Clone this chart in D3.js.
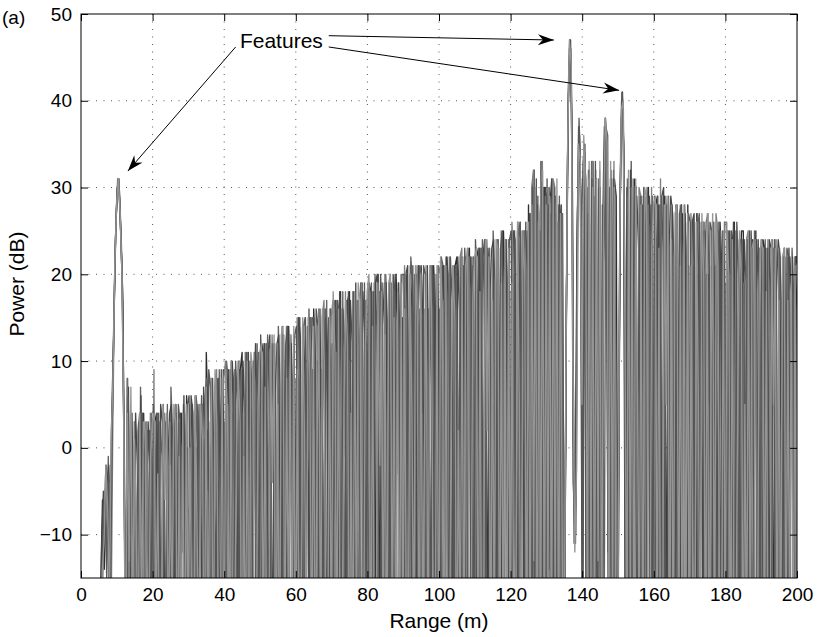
<!DOCTYPE html>
<html>
<head>
<meta charset="utf-8">
<script src="https://d3js.org/d3.v7.min.js"></script>
<style>
  body { margin: 0; background: #fff; }
  svg { display: block; font-family: "Liberation Sans", Arial, Helvetica, sans-serif; }
</style>
</head>
<body>
<div id="chart"></div>
<script>
// Radar power returns, several sweeps overlaid
// samples every 0.5 m starting at 5 m, each sweep sits a little shifted in range
var rangeStart = 5;
var rangeStep = 0.5;
var sweepShift = [0, 0.125, 0.25, 0.375, 0.1875, 0.4375];

// one line = 5 m of range (10 samples), power in dB
var sweepA = [
  -40,-16,-6,-14,-2,-9,-20,2,11,22,
  29,31,26,20,0,-28,8,-22,3,-25,
  3,-26,-2,-31,-20,4,-9,2,-28,-1,
  -25,4,3,-30,-1,-22,5,-33,3,-19,
  0,-27,-20,5,-9,-32,4,-1,-24,6,
  -24,-8,5,-31,6,0,-22,-29,5,-27,
  11,3,-28,8,-21,-33,-6,8,2,-25,
  -4,-29,9,-22,10,8,-31,-25,4,9,
  11,-30,5,-23,-32,10,-3,11,-26,4,
  -28,12,11,-31,6,-24,12,-33,11,-21,
  7,-29,-22,13,-1,-31,14,8,-25,13,
  -27,-1,15,-33,14,9,-24,-31,15,-22,
  16,10,-29,15,-23,-32,-2,16,9,-26,
  1,-30,17,-25,16,18,-22,-33,11,17,
  18,-27,12,-33,-21,17,2,19,-30,12,
  -29,19,18,-23,13,-31,20,-26,18,-33,
  15,-24,-33,19,0,-28,20,14,-22,19,
  -25,3,20,-29,21,15,-33,-22,20,-30,
  21,15,-32,20,-25,-29,3,21,16,-23,
  2,-28,21,-32,22,20,-25,-30,16,21,
  22,-30,17,-24,-33,22,4,23,-27,17,
  -27,23,22,-33,18,-25,24,-29,22,-31,
  19,-26,-33,24,4,-27,25,18,-31,24,
  -30,5,25,-27,26,20,-33,-25,25,-31,
  28,-26,29,32,-30,28,-22,33,-27,30,
  29,-24,28,31,-31,29,-20,28,-26,27,
  -25,12,37,47,42,-4,-9,21,37,31,
  -20,34,31,-27,32,-24,33,-30,31,-22,
  30,-25,21,38,34,-20,32,-28,31,29,
  -25,24,40,39,-20,30,-26,32,-29,31,
  30,-28,24,-33,-25,29,8,30,-27,23,
  -30,28,29,-24,23,-33,29,-27,28,-25,
  22,-27,-31,28,5,-24,27,21,-33,28,
  -27,5,26,-31,27,21,-24,-33,26,-28,
  26,20,-32,26,-25,-28,5,26,21,-33,
  4,-31,25,-27,24,26,-24,-33,19,25,
  25,-30,19,-25,-32,24,4,25,-27,18,
  -26,24,23,-31,18,-28,24,-33,23,-25,
  17,-31,-25,23,3,-28,22,18,-33,22,
  22
];

var sweepB = [
  -40,-18,-9,-5,-12,-1,-16,1,13,24,
  30,31,24,18,-3,-30,5,-18,2,-22,
  -1,-24,-33,7,-8,-29,3,-3,-22,4,
  -28,-6,4,-21,3,-1,-31,-24,5,-29,
  7,1,-30,4,-25,-19,-8,5,-2,-33,
  -7,-30,5,-24,6,4,-33,-19,0,6,
  8,-26,3,-31,-20,7,-4,9,-29,3,
  -27,10,8,-33,4,-21,9,-30,10,-24,
  5,-25,-31,11,-4,-22,10,3,-29,11,
  -30,0,12,-22,13,6,-27,-34,12,-25,
  14,7,-33,13,-24,-28,2,13,6,-22,
  0,-22,15,-29,14,15,-32,-26,8,15,
  15,-31,10,-24,-29,16,1,17,-22,9,
  -26,17,16,-32,11,-21,18,-29,16,-24,
  13,-22,-30,18,-1,-25,19,11,-33,17,
  -22,2,19,-30,20,14,-33,-27,19,-24,
  20,14,-27,19,-31,-23,4,19,13,-32,
  1,-31,20,-24,22,19,-28,-33,15,21,
  20,-28,16,-33,-22,21,0,20,-26,15,
  -31,22,21,-26,16,-23,21,-33,20,-27,
  17,-27,-32,22,1,-25,23,18,-30,22,
  -32,4,23,-27,24,18,-25,-33,23,-28,
  25,19,-30,23,-27,-24,5,24,18,-33,
  7,-27,25,-32,24,26,-24,-30,20,25,
  -22,27,-29,32,-26,29,-31,32,-20,29,
  -28,28,-24,31,-30,28,-22,29,-27,-10,
  -18,18,40,47,38,-7,-11,25,38,29,
  -24,35,-29,30,-21,33,-31,29,-26,31,
  -30,28,-24,37,36,-26,31,-22,30,-28,
  -12,30,41,35,-25,31,-22,30,-27,29,
  24,-31,-26,29,7,-24,30,25,-33,29,
  -25,8,29,-32,29,23,-31,-28,29,-33,
  28,22,-25,27,-30,-33,4,28,21,-26,
  6,-33,26,-25,27,26,-30,-24,20,26,
  27,-28,21,-33,-24,26,3,25,-30,20,
  -25,25,24,-32,19,-28,25,-31,24,-24,
  19,-26,-33,24,3,-29,25,18,-24,23,
  -33,5,24,-26,23,19,-30,-24,24,-28,
  23,17,-26,22,-33,-29,4,23,17,-25,
  -28
];

var sweepC = [
  -38,-12,-5,-10,-4,-2,-11,3,16,26,
  31,29,23,14,-14,-26,7,-24,4,-15,
  4,-2,-30,6,-19,-27,-10,3,-3,-25,
  -5,-32,4,-20,5,3,-27,-18,-2,4,
  5,-23,-1,-34,-21,4,-12,6,-28,0,
  -28,6,4,-20,0,-32,5,-25,7,-21,
  2,-33,-22,8,-7,-27,7,2,-24,9,
  -20,-2,9,-28,10,5,-34,-23,9,-29,
  10,4,-27,11,-21,-33,-2,12,5,-24,
  -3,-26,12,-30,11,13,-20,-29,6,12,
  13,-21,6,-30,-26,14,-5,12,-34,8,
  -30,15,13,-24,9,-33,14,-21,15,-28,
  9,-26,-33,16,-4,-21,15,10,-30,16,
  -31,3,17,-22,18,12,-27,-34,17,-20,
  17,12,-29,19,-24,-31,3,18,13,-22,
  0,-25,18,-32,19,20,-24,-30,14,19,
  19,-30,14,-22,-26,20,-3,19,-33,15,
  -33,20,21,-26,16,-30,20,-24,21,-29,
  15,-33,-27,21,2,-24,20,16,-29,21,
  -24,4,21,-30,22,17,-33,-26,21,-22,
  22,16,-33,21,-26,-29,3,22,17,-24,
  5,-29,23,-25,22,24,-31,-26,18,23,
  24,-33,19,-26,-31,23,3,24,-25,18,
  -33,25,24,-28,19,-26,25,-30,26,-24,
  27,-29,31,-24,29,-31,27,31,-26,30,
  -23,30,-29,30,-25,27,-31,28,25,-30,
  -8,28,44,47,30,-11,-6,30,36,24,
  33,35,-23,32,-30,28,-25,32,-21,30,
  -27,15,36,33,-18,29,-30,32,-24,-20,
  5,35,41,30,-22,30,-28,31,-23,28,
  29,23,-30,28,-24,-33,6,29,24,-26,
  6,-27,28,-31,29,30,-24,-33,23,29,
  27,-32,22,-26,-29,28,6,27,-24,21,
  -24,26,27,-30,20,-27,26,-33,25,-26,
  20,-33,-27,26,4,-24,25,21,-29,26,
  -30,6,25,-24,26,20,-33,-27,24,-29,
  24,19,-28,25,-33,-25,5,24,18,-30,
  3,-25,23,-32,24,23,-27,-30,18,24,
  22,-27,17,-33,-24,23,2,22,-30,16,
  22
];

var sweepD = [
  -35,-20,-8,-3,-9,-4,-22,2,19,27,
  31,28,21,6,-24,8,-22,4,-29,3,
  -29,2,4,-21,-1,-32,3,-18,4,-26,
  9,-26,-33,3,-11,-23,4,-1,-30,3,
  -31,-4,5,-22,3,-2,-27,-20,4,-29,
  5,-1,-27,6,-34,-22,-9,5,0,-30,
  -5,-24,8,-30,7,9,-21,-32,3,8,
  10,-31,5,-22,-27,9,-5,10,-33,4,
  -33,11,9,-26,3,-24,11,-20,10,-30,
  6,-33,-24,12,-2,-29,13,5,-22,12,
  -25,1,13,-32,14,7,-22,-29,13,-31,
  15,8,-25,14,-31,-20,3,15,9,-34,
  2,-24,16,-31,15,17,-28,-20,10,15,
  17,-23,11,-33,-25,16,-1,18,-28,10,
  -32,18,17,-24,12,-28,19,-21,17,-30,
  14,-31,-26,19,3,-22,18,13,-29,20,
  -28,2,20,-33,19,15,-24,-30,20,-23,
  21,15,-30,20,-23,-32,2,21,14,-25,
  4,-26,21,-30,20,21,-23,-32,15,20,
  21,-32,17,-27,-24,22,1,21,-30,16,
  -26,22,23,-31,18,-27,22,-22,21,-33,
  18,-24,-31,23,3,-29,24,17,-26,22,
  -29,6,24,-33,25,19,-26,-31,24,-24,
  26,20,-28,25,-33,-29,6,25,19,-27,
  -24,30,32,-28,26,-33,30,33,-24,29,
  -31,29,-26,31,30,-22,26,-30,27,-28,
  4,33,46,46,15,-10,-4,33,35,12,
  30,33,-26,31,-29,33,-22,30,-27,32,
  -21,26,38,30,-25,31,-29,33,-22,-25,
  18,38,40,22,-28,29,-24,31,-30,30,
  -27,30,29,-31,24,-25,28,-33,30,-29,
  23,-29,-33,31,5,-26,29,24,-30,28,
  -24,7,27,-33,28,22,-27,-30,26,-31,
  27,21,-29,26,-23,-31,4,26,21,-30,
  5,-25,26,-31,27,25,-28,-33,20,26,
  26,-27,20,-30,-33,25,3,24,-28,19,
  -32,24,25,-27,19,-24,24,-30,23,-26,
  18,-30,-26,24,4,-33,23,19,-27,23,
  -29,4,23,-25,22,18,-31,-27,22,-33,
  -26
];

var sweepE = [
  -40,-22,-10,-6,-15,-3,-19,2,14,25,
  30,30,25,17,-8,-27,6,-10,1,-26,
  -23,-7,3,-30,4,-2,-25,-34,2,-20,
  5,-2,-29,4,-24,-31,-7,3,-1,-22,
  -10,-25,4,-33,5,3,-21,-30,0,5,
  6,-29,1,-23,-31,5,-6,6,-20,1,
  -30,9,7,-25,2,-19,8,-28,9,-34,
  3,-23,-32,9,-3,-28,10,5,-21,9,
  -21,-6,11,-29,10,4,-32,-25,12,-27,
  13,5,-26,12,-32,-21,1,12,6,-30,
  -2,-31,14,-23,12,14,-33,-21,7,13,
  14,-33,8,-27,-22,15,-3,16,-29,9,
  -22,16,14,-30,9,-27,16,-33,15,-25,
  12,-32,-24,17,2,-29,16,11,-22,18,
  -24,1,18,-31,17,13,-26,-33,19,-21,
  19,13,-24,18,-33,-28,1,20,14,-26,
  3,-23,19,-28,20,18,-31,-22,14,20,
  20,-22,15,-31,-27,21,-1,20,-33,16,
  -30,21,20,-27,16,-33,21,-25,20,-28,
  16,-25,-31,21,3,-28,22,17,-24,21,
  -33,5,22,-25,23,17,-29,-24,22,-31,
  24,18,-27,23,-30,-33,6,23,19,-25,
  5,-31,24,-26,23,25,-29,-33,19,24,
  25,-25,20,-31,-27,26,4,25,-33,20,
  26,-30,30,-22,31,-17,25,-28,30,-24,
  31,-14,27,-29,30,-25,26,-18,28,-33,
  -14,22,42,46,36,-6,-10,27,37,27,
  -18,34,-15,27,-28,31,-20,33,-29,28,
  -24,25,37,34,-12,30,-27,31,-18,-27,
  -3,32,41,33,-24,27,-30,33,-21,30,
  -33,9,29,-26,30,23,-28,-31,28,-24,
  29,24,-26,28,-33,-30,7,28,23,-27,
  5,-30,28,-24,27,28,-33,-26,22,27,
  26,-31,21,-27,-33,27,3,25,-25,20,
  -29,26,25,-24,21,-33,26,-27,25,-31,
  19,-24,-31,25,4,-30,26,20,-25,24,
  -24,4,24,-31,25,18,-28,-33,24,-25,
  24,18,-31,23,-26,-29,3,24,18,-33,
  3,-33,22,-27,23,22,-24,-30,17,22,
  21
];

var sweepF = [
  -32,-14,-11,-2,-7,-17,1,8,21,28,
  31,27,20,3,-30,4,-13,7,-20,1,
  -9,-27,4,-19,3,2,-31,-22,-1,3,
  4,-21,-3,-28,-34,5,-6,4,-25,-2,
  -20,5,3,-29,-1,-26,4,-35,5,-23,
  0,-19,-30,6,-10,-26,5,1,-33,7,
  -22,-3,8,-33,9,3,-26,-20,8,-31,
  9,4,-26,10,-30,-20,-1,9,3,-34,
  -1,-28,10,-34,11,9,-23,-30,5,11,
  12,-24,7,-33,-27,12,-4,13,-31,5,
  -32,13,14,-27,8,-20,13,-26,14,-33,
  9,-28,-31,15,1,-24,15,8,-30,14,
  -33,0,15,-26,16,10,-30,-24,16,-29,
  18,11,-27,16,-30,-23,4,17,12,-31,
  4,-33,18,-22,19,17,-29,-25,12,18,
  20,-33,14,-25,-30,19,-2,18,-23,13,
  -31,19,20,-24,15,-29,18,-33,19,-27,
  16,-29,-23,20,4,-26,21,15,-31,20,
  -23,-1,20,-31,21,16,-28,-25,21,-32,
  22,16,-29,21,-33,-25,5,21,15,-30,
  2,-24,22,-29,21,23,-32,-27,17,22,
  23,-31,18,-28,-23,24,2,22,-32,17,
  -25,24,23,-31,19,-28,24,-33,23,-26,
  19,-31,-25,26,5,-33,25,20,-28,26,
  -27,28,-13,30,-30,27,-19,32,-25,28,
  -16,29,-25,30,-20,31,-28,27,-12,-26,
  8,35,47,44,8,-12,-2,35,33,5,
  36,29,-21,33,-16,30,-27,31,-13,33,
  -28,24,38,35,-22,33,-17,30,-30,-22,
  22,39,40,14,-26,32,-19,30,-28,31,
  7,-25,28,-32,30,29,-27,-24,23,28,
  29,-24,23,-30,-27,28,5,29,-31,24,
  -31,27,28,-25,21,-29,28,-24,27,-33,
  21,-24,-33,26,6,-28,27,20,-31,27,
  -33,6,27,-28,26,21,-31,-24,25,-27,
  25,20,-33,24,-27,-24,5,25,19,-30,
  5,-29,25,-24,23,24,-33,-26,19,24,
  23,-24,18,-30,-33,24,5,23,-29,17,
  -27,22,23,-30,17,-24,22,-33,21,-28,
  -19
];

var sweepColors = ["#2e2e2e", "#626262", "#474747", "#808080", "#565656", "#959595"];

var xTicks = [0, 20, 40, 60, 80, 100, 120, 140, 160, 180, 200];
var yTicks = [-10, 0, 10, 20, 30, 40, 50];

// annotation, in data units (range m, power dB)
var featureLabel = {text: "Features", range: 44.4, power: 46.1};
var featureArrows = [
  {from: [43.2, 46.2], to: [13.1, 31.9]},
  {from: [69.2, 47.5], to: [132.1, 47.0]},
  {from: [69.2, 46.2], to: [150.3, 41.2]}
];

var svgWidth = 819;
var svgHeight = 637;
var margin = {top: 14, right: 22, bottom: 59, left: 81};
var width = svgWidth - margin.left - margin.right;
var height = svgHeight - margin.top - margin.bottom;

var x = d3.scaleLinear().domain([0, 200]).range([0, width]);
var y = d3.scaleLinear().domain([-15, 50]).range([height, 0]);

var svg = d3.select("#chart")
  .append("svg")
  .attr("width", svgWidth)
  .attr("height", svgHeight);

svg.append("rect").attr("width", svgWidth).attr("height", svgHeight).attr("fill", "#fff");

svg.append("defs").append("clipPath")
  .attr("id", "plotClip")
  .append("rect")
  .attr("width", width)
  .attr("height", height);

var chartGroup = svg.append("g")
  .attr("transform", `translate(${margin.left}, ${margin.top})`);

// dotted grid
chartGroup.selectAll(".xgrid")
  .data(xTicks.slice(1, -1))
  .enter().append("line")
  .attr("x1", d => x(d)).attr("x2", d => x(d))
  .attr("y1", 0).attr("y2", height)
  .attr("stroke", "#555").attr("stroke-width", 1)
  .attr("stroke-dasharray", "1,6.5");

chartGroup.selectAll(".ygrid")
  .data(yTicks.filter(d => d < 50))
  .enter().append("line")
  .attr("x1", 0).attr("x2", width)
  .attr("y1", d => y(d)).attr("y2", d => y(d))
  .attr("stroke", "#555").attr("stroke-width", 1)
  .attr("stroke-dasharray", "1,6.5");

// sweeps
var sweeps = [sweepA, sweepB, sweepC, sweepD, sweepE, sweepF];
var powerLine = d3.line()
  .x(d => x(d[0]))
  .y(d => y(d[1]));

chartGroup.append("g")
  .attr("clip-path", "url(#plotClip)")
  .selectAll("path")
  .data(sweeps)
  .enter().append("path")
  .attr("d", (s, k) => powerLine(s.map((v, i) => [rangeStart + i * rangeStep + sweepShift[k], v])))
  .attr("fill", "none")
  .attr("stroke", (s, k) => sweepColors[k])
  .attr("stroke-width", 1.35)
  .attr("stroke-linejoin", "round");

// axes, ticks inward on all four sides
function styleAxis(g) {
  g.select(".domain").remove();
  g.selectAll(".tick line").attr("stroke", "#000");
  g.selectAll("text")
    .attr("fill", "#000")
    .attr("font-size", 19)
    .attr("font-family", "\"Liberation Sans\", Arial, sans-serif");
}

chartGroup.append("g")
  .attr("transform", `translate(0, ${height})`)
  .call(d3.axisBottom(x).tickValues(xTicks).tickSizeInner(-7).tickSizeOuter(0).tickPadding(10))
  .call(styleAxis);

chartGroup.append("g")
  .call(d3.axisLeft(y).tickValues(yTicks).tickSizeInner(-7).tickSizeOuter(0).tickPadding(9))
  .call(styleAxis);

chartGroup.append("g")
  .call(d3.axisTop(x).tickValues(xTicks).tickSizeInner(-7).tickSizeOuter(0).tickFormat(""))
  .call(styleAxis);

chartGroup.append("g")
  .attr("transform", `translate(${width}, 0)`)
  .call(d3.axisRight(y).tickValues(yTicks).tickSizeInner(-7).tickSizeOuter(0).tickFormat(""))
  .call(styleAxis);

chartGroup.append("rect")
  .attr("width", width)
  .attr("height", height)
  .attr("fill", "none")
  .attr("stroke", "#000")
  .attr("stroke-width", 1);

// axis titles
svg.append("text")
  .attr("x", margin.left + width / 2)
  .attr("y", 628)
  .attr("text-anchor", "middle")
  .attr("font-size", 21)
  .text("Range (m)");

svg.append("text")
  .attr("transform", "translate(24, 284) rotate(-90)")
  .attr("text-anchor", "middle")
  .attr("font-size", 21)
  .text("Power (dB)");

svg.append("text")
  .attr("x", 2)
  .attr("y", 24)
  .attr("font-size", 19)
  .text("(a)");

// Features annotation with arrows
chartGroup.append("text")
  .attr("x", x(featureLabel.range))
  .attr("y", y(featureLabel.power))
  .attr("font-size", 21)
  .text(featureLabel.text);

var arrowGroup = chartGroup.selectAll(".arrow")
  .data(featureArrows)
  .enter().append("g");

arrowGroup.append("line")
  .attr("x1", d => x(d.from[0])).attr("y1", d => y(d.from[1]))
  .attr("x2", d => x(d.to[0])).attr("y2", d => y(d.to[1]))
  .attr("stroke", "#000").attr("stroke-width", 1);

arrowGroup.append("path")
  .attr("d", "M0,0 L-16,-5.5 L-11,0 L-16,5.5 Z")
  .attr("fill", "#000")
  .attr("transform", function(d) {
    var dx = x(d.to[0]) - x(d.from[0]);
    var dy = y(d.to[1]) - y(d.from[1]);
    var angle = Math.atan2(dy, dx) * 180 / Math.PI;
    return `translate(${x(d.to[0])}, ${y(d.to[1])}) rotate(${angle})`;
  });
</script>
</body>
</html>
